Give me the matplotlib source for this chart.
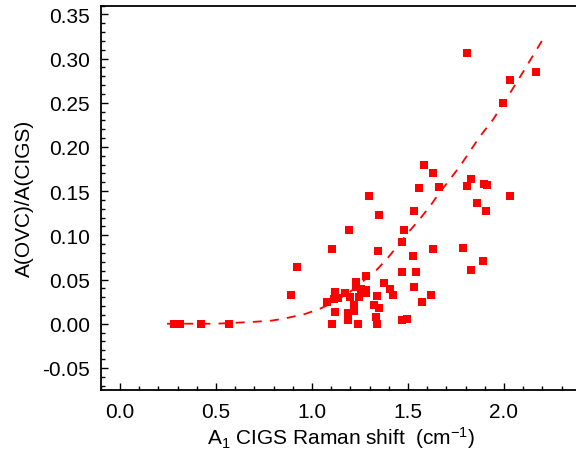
import matplotlib
matplotlib.use("Agg")
import matplotlib.pyplot as plt
from matplotlib.ticker import MultipleLocator, FormatStrFormatter

plt.rcParams['font.family'] = ['Liberation Sans', 'DejaVu Sans']
plt.rcParams['mathtext.fontset'] = 'custom'
plt.rcParams['mathtext.rm'] = 'Liberation Sans'
plt.rcParams['mathtext.it'] = 'Liberation Sans:italic'

# measured points: Raman shift (cm-1) vs area ratio
shift = [0.28, 0.31, 0.42, 0.57, 0.89, 0.92, 1.08, 1.105, 1.105, 1.115,
         1.118, 1.122, 1.137, 1.174, 1.19, 1.19, 1.194, 1.20, 1.22, 1.22,
         1.231, 1.231, 1.24, 1.245, 1.253, 1.283, 1.281, 1.283, 1.295, 1.321,
         1.332, 1.34, 1.34, 1.345, 1.347, 1.349, 1.375, 1.405, 1.42, 1.469,
         1.467, 1.47, 1.48, 1.496, 1.525, 1.533, 1.533, 1.54, 1.557, 1.575,
         1.583, 1.622, 1.629, 1.632, 1.66, 1.788, 1.806, 1.809, 1.828, 1.828,
         1.858, 1.889, 1.897, 1.91, 1.908, 1.993, 2.029, 2.03, 2.168]
ratio = [0.0, 0.0, 0.0, 0.0, 0.033, 0.064, 0.024, 0.085, 0.0, 0.028,
         0.013, 0.036, 0.029, 0.035, 0.0125, 0.0045, 0.106, 0.030, 0.021, 0.014,
         0.047, 0.041, 0.0, 0.030, 0.039, 0.038, 0.035, 0.054, 0.144, 0.021,
         0.008, 0.031, 0.0, 0.082, 0.018, 0.123, 0.046, 0.039, 0.032, 0.058,
         0.004, 0.093, 0.106, 0.005, 0.077, 0.128, 0.042, 0.059, 0.153, 0.024,
         0.179, 0.032, 0.171, 0.085, 0.155, 0.086, 0.306, 0.156, 0.164, 0.061,
         0.136, 0.071, 0.158, 0.157, 0.128, 0.250, 0.276, 0.145, 0.285]

# fitted trend (dashed)
fit_x = [0.245, 0.5, 0.69, 0.79, 0.86, 0.964, 1.042, 1.11, 1.198, 1.26,
         1.337, 1.389, 1.446, 1.50, 1.56, 1.615, 1.663, 1.71, 1.77, 1.875,
         1.94, 2.0, 2.1, 2.214]
fit_y = [0.0, 0.0, 0.002, 0.0035, 0.006, 0.011, 0.017, 0.024, 0.036, 0.047,
         0.061, 0.073, 0.088, 0.103, 0.118, 0.133, 0.148, 0.161, 0.178, 0.212,
         0.23, 0.25, 0.285, 0.326]

fig = plt.figure(figsize=(5.76, 4.56), dpi=100)
ax = fig.add_axes([100.8 / 576, 65 / 456, 480 / 576, 384.5 / 456])

ax.plot(fit_x, fit_y, color='#ff0000', lw=1.3, linestyle=(0, (5, 4.5)))
ax.plot(shift, ratio, 's', color='#ff0000', markersize=5.8, markeredgewidth=0)

ax.set_xlim(-0.1, 2.4)
ax.set_ylim(-0.075, 0.36)
ax.xaxis.set_major_locator(MultipleLocator(0.5))
ax.xaxis.set_minor_locator(MultipleLocator(0.1))
ax.yaxis.set_major_locator(MultipleLocator(0.05))
ax.yaxis.set_minor_locator(MultipleLocator(0.01))
ax.xaxis.set_major_formatter(FormatStrFormatter('%.1f'))
ax.yaxis.set_major_formatter(FormatStrFormatter('%.2f'))

ax.tick_params(which='both', direction='in', top=False, right=False,
               labelsize=15, width=1)
ax.tick_params(axis='x', which='major', length=5, pad=9)
ax.tick_params(axis='y', which='major', length=5, pad=8)
ax.tick_params(which='minor', length=3)
for s in ax.spines.values():
    s.set_linewidth(1.3)
ax.spines['right'].set_visible(False)

ax.set_xlabel(r'A$_1$ CIGS Raman shift  (cm$^{-1}$)', fontsize=15, labelpad=2)
ax.set_ylabel('A(OVC)/A(CIGS)', fontsize=15, labelpad=6)

fig.savefig('out.png', dpi=100)
